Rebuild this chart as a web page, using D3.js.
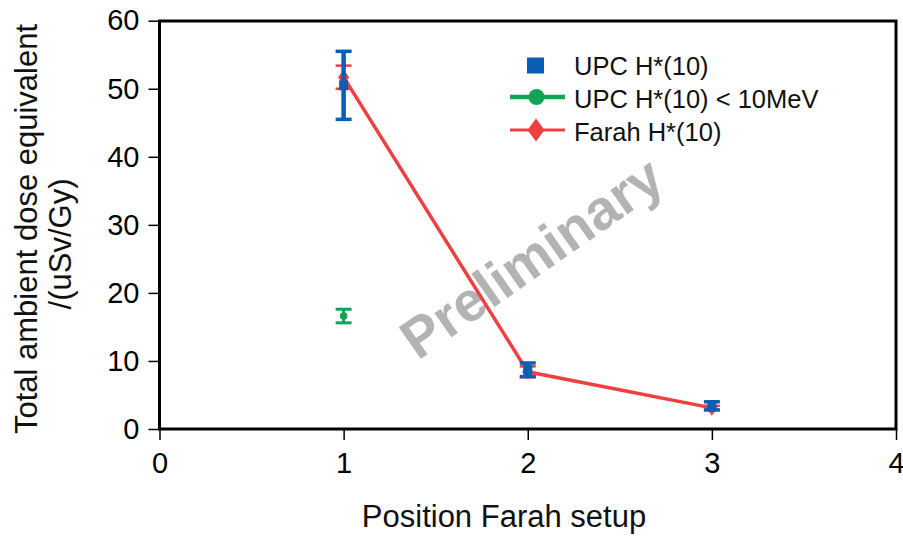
<!DOCTYPE html>
<html>
<head>
<meta charset="utf-8">
<script src="https://cdn.jsdelivr.net/npm/d3@7"></script>
<style>
  body { margin: 0; background: #fff; }
  svg { display: block; font-family: "Liberation Sans", Arial, sans-serif; }
</style>
</head>
<body>
<svg id="chart" width="903" height="540"></svg>
<script>
// ---- data ----
const positions = [1, 2, 3];
const upcValues = [50.5, 8.7, 3.4];
const upcErrors = [5.0, 1.0, 0.6];
const upcLowPositions = [1];
const upcLowValues = [16.6];
const upcLowErrors = [1.0];
const farahValues = [51.7, 8.4, 3.1];
const farahErrors = [1.7, 0.8, 0.3];
const xTicks = [0, 1, 2, 3, 4];
const yTicks = [0, 10, 20, 30, 40, 50, 60];
const seriesNames = ["UPC H*(10)", "UPC H*(10) < 10MeV", "Farah H*(10)"];
const colors = { upc: "#0a5eb5", low: "#10a554", farah: "#ef4040" };

const svg = d3.select("#chart");
const m = { left: 159.5, right: 896, top: 21, bottom: 429 };
const x = d3.scaleLinear().domain([0, 4]).range([m.left, m.right]);
const y = d3.scaleLinear().domain([0, 60]).range([m.bottom, 20.7]);

// watermark
svg.append("text")
  .attr("transform", `translate(531,257) rotate(-35)`)
  .attr("text-anchor", "middle")
  .attr("dy", "0.36em")
  .attr("font-size", 56)
  .attr("font-weight", "bold")
  .attr("fill", "#b3b3b3")
  .text("Preliminary");

// axes
const yAxis = svg.append("g").attr("transform", `translate(${m.left},0)`)
  .call(d3.axisLeft(y).tickValues(yTicks).tickFormat(d3.format("d")).tickSize(11).tickPadding(9));
const xAxis = svg.append("g").attr("transform", `translate(0,${m.bottom})`)
  .call(d3.axisBottom(x).tickValues(xTicks).tickFormat(d3.format("d")).tickSize(11).tickPadding(12));
[yAxis, xAxis].forEach(g => {
  g.select(".domain").remove();
  g.selectAll(".tick line").attr("stroke", "#000").attr("stroke-width", 1.5);
  g.selectAll(".tick text").attr("font-size", 29).attr("fill", "#000")
    .attr("font-family", "Liberation Sans, Arial, sans-serif");
});

// frame
svg.append("rect")
  .attr("x", m.left).attr("y", m.top)
  .attr("width", m.right - m.left).attr("height", m.bottom - m.top)
  .attr("fill", "none").attr("stroke", "#000").attr("stroke-width", 3);

// axis titles
svg.append("text")
  .attr("transform", `translate(37,229) rotate(-90)`)
  .attr("text-anchor", "middle").attr("font-size", 31).attr("fill", "#111")
  .text("Total ambient dose equivalent");
svg.append("text")
  .attr("transform", `translate(71,244) rotate(-90)`)
  .attr("text-anchor", "middle").attr("font-size", 31).attr("fill", "#111")
  .text("/(uSv/Gy)");
svg.append("text")
  .attr("x", 504).attr("y", 527)
  .attr("text-anchor", "middle").attr("font-size", 31).attr("fill", "#111")
  .text("Position Farah setup");

function errorBars(px, vals, errs, color, width, capW, capStroke) {
  const g = svg.append("g");
  px.forEach((p, i) => {
    const cx = x(p), y1 = y(vals[i] + errs[i]), y2 = y(vals[i] - errs[i]);
    g.append("line").attr("x1", cx).attr("x2", cx).attr("y1", y1).attr("y2", y2)
      .attr("stroke", color).attr("stroke-width", width);
    [y1, y2].forEach(yy => g.append("line")
      .attr("x1", cx - capW / 2).attr("x2", cx + capW / 2).attr("y1", yy).attr("y2", yy)
      .attr("stroke", color).attr("stroke-width", capStroke));
  });
}

// Farah series
const line = d3.line().x((d, i) => x(positions[i])).y(d => y(d));
svg.append("path").datum(farahValues).attr("d", line)
  .attr("fill", "none").attr("stroke", colors.farah).attr("stroke-width", 3.5);
errorBars(positions, farahValues, farahErrors, colors.farah, 2, 16, 2.5);
const diamond = d3.symbol().type(d3.symbolDiamond).size(70);
svg.append("g").selectAll("path").data(farahValues).join("path")
  .attr("d", diamond)
  .attr("transform", (d, i) => `translate(${x(positions[i])},${y(d)}) scale(1.25,1)`)
  .attr("fill", colors.farah);

// UPC < 10 MeV
errorBars(upcLowPositions, upcLowValues, upcLowErrors, colors.low, 3, 16, 3);
svg.append("g").selectAll("circle").data(upcLowValues).join("circle")
  .attr("cx", (d, i) => x(upcLowPositions[i])).attr("cy", d => y(d)).attr("r", 3.8)
  .attr("fill", colors.low);

// UPC
errorBars(positions, upcValues, upcErrors, colors.upc, 4.5, 16, 3.5);
svg.append("g").selectAll("rect").data(upcValues).join("rect")
  .attr("x", (d, i) => x(positions[i]) - 4.5).attr("y", d => y(d) - 5)
  .attr("width", 9).attr("height", 10).attr("fill", colors.upc);

// legend
const lg = svg.append("g");
lg.append("rect").attr("x", 527).attr("y", 57.5).attr("width", 17).attr("height", 16).attr("fill", colors.upc);
lg.append("line").attr("x1", 510).attr("x2", 565).attr("y1", 97).attr("y2", 97)
  .attr("stroke", colors.low).attr("stroke-width", 4.5);
lg.append("circle").attr("cx", 536.5).attr("cy", 97).attr("r", 8).attr("fill", colors.low);
lg.append("line").attr("x1", 510).attr("x2", 565).attr("y1", 130).attr("y2", 130)
  .attr("stroke", colors.farah).attr("stroke-width", 3);
lg.append("path").attr("d", d3.symbol().type(d3.symbolDiamond).size(150)())
  .attr("transform", "translate(536,130) scale(1.3,1)").attr("fill", colors.farah);
seriesNames.forEach((name, i) => {
  lg.append("text").attr("x", 574).attr("y", 74.5 + i * 33)
    .attr("font-size", 25.5).attr("fill", "#111").text(name);
});
</script>
</body>
</html>
